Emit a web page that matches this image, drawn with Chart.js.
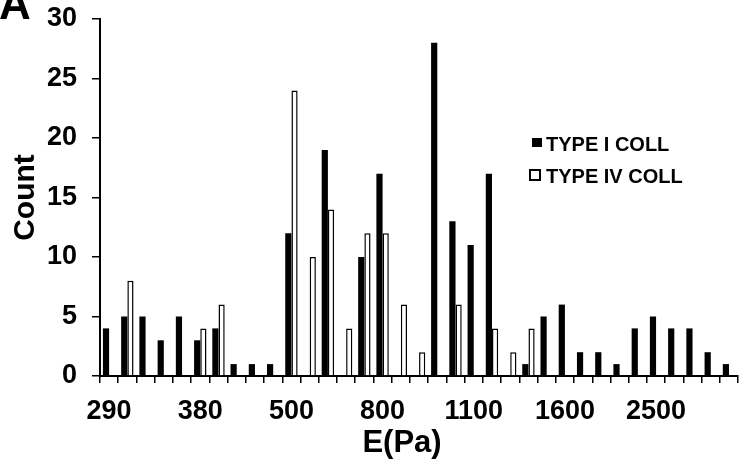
<!DOCTYPE html>
<html>
<head>
<meta charset="utf-8">
<script src="https://cdn.jsdelivr.net/npm/chart.js@4"></script>
<style>
  html, body { margin: 0; padding: 0; background: #fff; }
  #wrap { width: 741px; height: 464px; position: relative; }
</style>
</head>
<body>
<div id="wrap"><canvas id="Grafica"></canvas></div>
<script>
// one label every 5 bins
const TICK_EVERY = 5;
const tickLabels = ['290', '380', '500', '800', '1100', '1600', '2500'];

// counts per E bin (35 bins), null = no bar
const typeI  = [4, 5, 5, 3, 5, 3, 4, 1, 1, 1, 12, null, 19, null, 10, 17, null, null, 28, 13, 11, 17, null, 1, 5, 6, 2, 2, 1, 4, 5, 4, 4, 2, 1];
const typeIV = [null, 8, null, null, null, 4, 6, null, null, null, 24, 10, 14, 4, 12, 12, 6, 2, null, 6, null, 4, 2, 4, null, null, null, null, null, null, null, null, null, null, null];

const yTicks = [0, 5, 10, 15, 20, 25, 30];

const FONT = "'Liberation Sans', Arial, sans-serif";
Chart.defaults.font.family = FONT;
Chart.defaults.color = '#000';

const labels = typeI.map((v, i) => i % TICK_EVERY === 0 ? tickLabels[i / TICK_EVERY] : '');

const extras = {
  id: 'extras',
  afterDraw(chart) {
    const ctx = chart.ctx;
    ctx.save();
    ctx.fillStyle = '#000';

    // panel letter
    ctx.font = 'bold 44px ' + FONT;
    ctx.textAlign = 'left';
    ctx.textBaseline = 'alphabetic';
    ctx.fillText('A', -1, 19);

    // x title
    ctx.font = 'bold 31px ' + FONT;
    ctx.textAlign = 'center';
    ctx.textBaseline = 'middle';
    ctx.fillText('E(Pa)', 402, 443);

    // legend
    const ds = chart.data.datasets;
    ctx.font = 'bold 20px ' + FONT;
    ctx.textAlign = 'left';
    ctx.fillRect(532, 138, 10, 9);
    ctx.fillText(ds[0].label, 546, 145);
    ctx.fillStyle = '#fff';
    ctx.fillRect(530, 170, 10, 10);
    ctx.strokeStyle = '#000';
    ctx.lineWidth = 2;
    ctx.strokeRect(530, 170, 10, 10);
    ctx.fillStyle = '#000';
    ctx.fillText(ds[1].label, 546, 177);
    ctx.restore();
  }
};

const config = {
  type: 'bar',
  data: {
    labels: labels,
    datasets: [
      {
        label: 'TYPE I COLL',
        data: typeI,
        backgroundColor: '#000',
        borderWidth: 0,
      },
      {
        label: 'TYPE IV COLL',
        data: typeIV,
        backgroundColor: '#fff',
        borderColor: '#000',
        borderWidth: 1.5,
      }
    ]
  },
  options: {
    responsive: true,
    maintainAspectRatio: false,
    animation: false,
    devicePixelRatio: 1,
    datasets: {
      bar: { categoryPercentage: 0.68, barPercentage: 1.0 }
    },
    layout: { padding: { top: 19, left: 0, right: 0, bottom: 0 } },
    plugins: {
      legend: { display: false },
      tooltip: { enabled: false }
    },
    scales: {
      x: {
        grid: { display: true, drawOnChartArea: false, drawTicks: true, tickLength: 7, color: '#000', lineWidth: 1.5 },
        border: { display: true, color: '#000', width: 2 },
        ticks: { autoSkip: false, maxRotation: 0, padding: 12, font: { size: 27, weight: 'bold' } },
        afterFit(scale) { scale.height = 88; }
      },
      y: {
        min: 0,
        max: 30,
        afterBuildTicks(scale) { scale.ticks = yTicks.map(v => ({ value: v })); },
        grid: { display: true, drawOnChartArea: false, drawTicks: true, tickLength: 8, color: '#000', lineWidth: 1.5 },
        border: { display: true, color: '#000', width: 2 },
        ticks: { padding: 15, font: { size: 27, weight: 'bold' } },
        title: { display: true, text: 'Count', padding: { top: 8, bottom: 0 }, font: { size: 30, weight: 'bold' } },
        afterFit(scale) {
          scale.width = 100;
          scale.paddingTop = 0;
          scale.paddingBottom = 0;
        }
      }
    }
  },
  plugins: [extras]
};

const chart = new Chart(document.getElementById('Grafica'), config);
</script>
</body>
</html>
